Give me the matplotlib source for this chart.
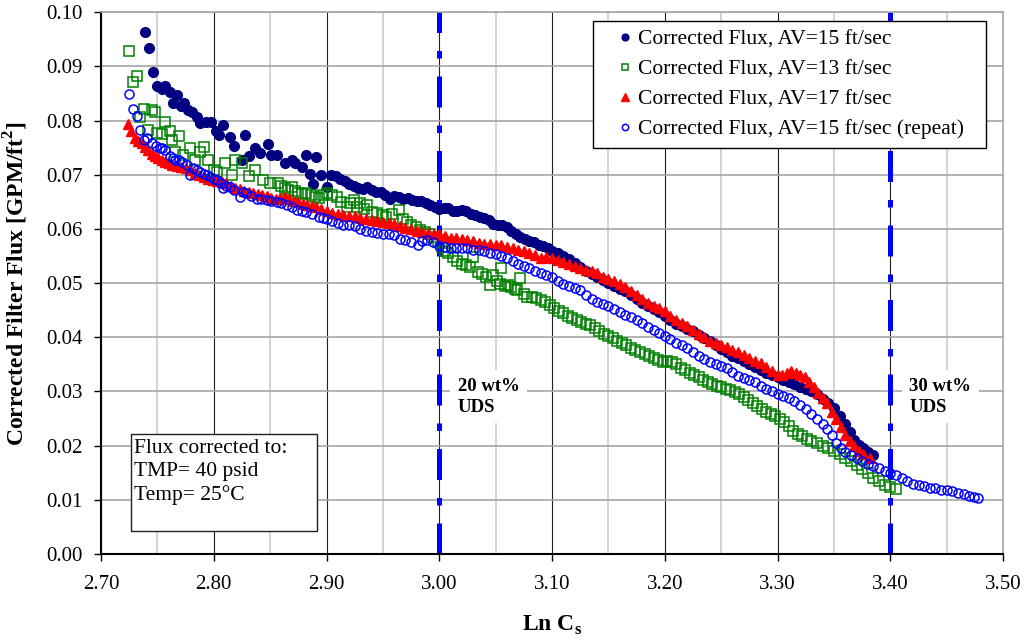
import numpy as np
import matplotlib
matplotlib.use("Agg")
import matplotlib.pyplot as plt
from matplotlib.ticker import MultipleLocator, FormatStrFormatter
from matplotlib.patches import Rectangle

plt.rcParams['font.family'] = ['Liberation Serif', 'DejaVu Serif']
plt.rcParams['mathtext.fontset'] = 'custom'
plt.rcParams['mathtext.rm'] = 'Liberation Serif'
plt.rcParams['mathtext.bf'] = 'Liberation Serif:bold'

# Corrected Flux, AV=15 ft/sec
x_av15 = [2.739, 2.743, 2.746, 2.750, 2.754, 2.757, 2.761, 2.764, 2.767, 2.771,
          2.774, 2.777, 2.781, 2.785, 2.788, 2.793, 2.798, 2.802, 2.805, 2.808,
          2.814, 2.818, 2.825, 2.828, 2.831, 2.837, 2.841, 2.848, 2.851, 2.856,
          2.863, 2.869, 2.872, 2.878, 2.882, 2.885, 2.888, 2.891, 2.895,
          2.900, 2.904, 2.908, 2.912, 2.916, 2.920, 2.924, 2.928, 2.932, 2.936,
          2.940, 2.944, 2.948, 2.952, 2.956, 2.960, 2.964, 2.968, 2.972, 2.976,
          2.980, 2.984, 2.988, 2.992, 2.996, 3.000, 3.004, 3.008, 3.012, 3.016,
          3.020, 3.024, 3.028, 3.032, 3.036, 3.040, 3.044, 3.048, 3.052, 3.056,
          3.060, 3.064, 3.068, 3.072, 3.076, 3.080, 3.084, 3.088, 3.092, 3.096,
          3.100, 3.105, 3.110, 3.115, 3.120, 3.125, 3.130, 3.135, 3.140, 3.145,
          3.150, 3.155, 3.160, 3.165, 3.170, 3.175, 3.180, 3.185, 3.190, 3.195,
          3.200, 3.205, 3.210, 3.215, 3.220, 3.225, 3.230, 3.235, 3.240, 3.245,
          3.250, 3.255, 3.260, 3.265, 3.270, 3.275, 3.280, 3.285, 3.290, 3.295,
          3.300, 3.305, 3.310, 3.315, 3.320, 3.325, 3.330, 3.335, 3.340, 3.345,
          3.350, 3.355, 3.360, 3.364, 3.368, 3.372, 3.376, 3.380, 3.385]
y_av15 = [0.0964, 0.0934, 0.0889, 0.0863, 0.0858, 0.0864, 0.0853, 0.0832, 0.0847, 0.0827,
          0.0833, 0.0819, 0.0816, 0.0807, 0.0796, 0.0798, 0.0798, 0.0780, 0.0774, 0.0791,
          0.0770, 0.0753, 0.0727, 0.0773, 0.0734, 0.0749, 0.0741, 0.0756, 0.0736, 0.0736,
          0.0721, 0.0728, 0.0721, 0.0715, 0.0736, 0.0701, 0.0683, 0.0733, 0.0699,
          0.0678, 0.0699, 0.0697, 0.0693, 0.0688, 0.0683, 0.0679, 0.0676, 0.0674, 0.0677,
          0.0672, 0.0669, 0.0668, 0.0662, 0.0655, 0.0660, 0.0659, 0.0656, 0.0657, 0.0654,
          0.0652, 0.0651, 0.0647, 0.0645, 0.0640, 0.0637, 0.0639, 0.0638, 0.0634, 0.0633,
          0.0635, 0.0633, 0.0628, 0.0625, 0.0622, 0.0620, 0.0616, 0.0610, 0.0608, 0.0607,
          0.0603, 0.0596, 0.0591, 0.0585, 0.0582, 0.0578, 0.0575, 0.0571, 0.0568, 0.0564,
          0.0560, 0.0555, 0.0550, 0.0544, 0.0537, 0.0530, 0.0523, 0.0517, 0.0511, 0.0506,
          0.0501, 0.0495, 0.0490, 0.0485, 0.0479, 0.0471, 0.0463, 0.0457, 0.0452, 0.0447,
          0.0440, 0.0432, 0.0425, 0.0420, 0.0416, 0.0411, 0.0405, 0.0399, 0.0393, 0.0386,
          0.0378, 0.0372, 0.0366, 0.0361, 0.0356, 0.0351, 0.0346, 0.0340, 0.0335, 0.0331,
          0.0327, 0.0321, 0.0317, 0.0313, 0.0309, 0.0305, 0.0301, 0.0295, 0.0287, 0.0279,
          0.0269, 0.0255, 0.0240, 0.0225, 0.0210, 0.0201, 0.0195, 0.0189, 0.0183]

# Corrected Flux, AV=13 ft/sec
x_av13 = [2.725, 2.728, 2.732, 2.735, 2.738, 2.742, 2.745, 2.748, 2.750, 2.754,
          2.757, 2.761, 2.763, 2.766, 2.769, 2.773, 2.779, 2.783, 2.788, 2.791,
          2.795, 2.800, 2.803, 2.810, 2.816, 2.819, 2.825, 2.831, 2.837, 2.844,
          2.850, 2.857, 2.860, 2.863, 2.866, 2.869, 2.872, 2.875, 2.878, 2.882,
          2.886, 2.890, 2.893, 2.897, 2.900, 2.905, 2.909, 2.913, 2.918, 2.921,
          2.924, 2.927, 2.930, 2.933, 2.936, 2.940, 2.945, 2.950, 2.953, 2.958,
          2.964, 2.968, 2.971, 2.975, 2.979, 2.983, 2.987, 2.991, 2.995, 2.999,
          3.002, 3.005, 3.008, 3.012, 3.016, 3.020, 3.024, 3.027, 3.030, 3.034,
          3.038, 3.041, 3.045, 3.048, 3.051, 3.054, 3.055, 3.058, 3.061, 3.064,
          3.067, 3.069, 3.072, 3.075, 3.078, 3.082, 3.086, 3.090, 3.094, 3.098,
          3.102, 3.106, 3.110, 3.114, 3.118, 3.122, 3.126, 3.130, 3.134, 3.138,
          3.142, 3.146, 3.150, 3.154, 3.158, 3.162, 3.166, 3.170, 3.174, 3.178,
          3.182, 3.186, 3.190, 3.194, 3.198, 3.202, 3.206, 3.210, 3.214, 3.218,
          3.222, 3.226, 3.230, 3.234, 3.238, 3.242, 3.246, 3.250, 3.254, 3.258,
          3.262, 3.266, 3.270, 3.274, 3.278, 3.282, 3.286, 3.290, 3.294, 3.298,
          3.302, 3.306, 3.310, 3.314, 3.318, 3.322, 3.326, 3.330, 3.335, 3.340,
          3.345, 3.350, 3.355, 3.360, 3.365, 3.370, 3.375, 3.380, 3.385, 3.390,
          3.395, 3.400, 3.405]
y_av13 = [0.0928, 0.0871, 0.0882, 0.0806, 0.0822, 0.0783, 0.0819, 0.0816, 0.0777, 0.0776,
          0.0798, 0.0780, 0.0765, 0.0742, 0.0771, 0.0736, 0.0749, 0.0727, 0.0742, 0.0752,
          0.0727, 0.0708, 0.0706, 0.0721, 0.0699, 0.0727, 0.0721, 0.0697, 0.0708, 0.0690,
          0.0684, 0.0684, 0.0680, 0.0675, 0.0672, 0.0678, 0.0670, 0.0666, 0.0664, 0.0666,
          0.0662, 0.0659, 0.0657, 0.0662, 0.0666, 0.0662, 0.0659, 0.0650, 0.0641, 0.0648,
          0.0653, 0.0640, 0.0647, 0.0637, 0.0644, 0.0632, 0.0629, 0.0625, 0.0622, 0.0628,
          0.0635, 0.0618, 0.0613, 0.0607, 0.0603, 0.0598, 0.0594, 0.0590, 0.0586, 0.0576,
          0.0566, 0.0560, 0.0556, 0.0548, 0.0540, 0.0536, 0.0533, 0.0530, 0.0549, 0.0520,
          0.0516, 0.0512, 0.0496, 0.0515, 0.0503, 0.0499, 0.0527, 0.0495, 0.0497, 0.0493,
          0.0490, 0.0487, 0.0509, 0.0480, 0.0475, 0.0474, 0.0472, 0.0469, 0.0466, 0.0460,
          0.0454, 0.0449, 0.0444, 0.0440, 0.0436, 0.0432, 0.0428, 0.0425, 0.0422, 0.0418,
          0.0412, 0.0407, 0.0403, 0.0398, 0.0394, 0.0390, 0.0386, 0.0381, 0.0377, 0.0373,
          0.0370, 0.0366, 0.0362, 0.0358, 0.0355, 0.0356, 0.0355, 0.0350, 0.0344, 0.0339,
          0.0335, 0.0331, 0.0326, 0.0322, 0.0318, 0.0314, 0.0311, 0.0308, 0.0305, 0.0302,
          0.0299, 0.0295, 0.0290, 0.0284, 0.0278, 0.0273, 0.0267, 0.0262, 0.0258, 0.0254,
          0.0249, 0.0244, 0.0236, 0.0228, 0.0222, 0.0218, 0.0213, 0.0209, 0.0205, 0.0200,
          0.0196, 0.0191, 0.0184, 0.0178, 0.0172, 0.0164, 0.0157, 0.0149, 0.0141, 0.0134,
          0.0128, 0.0124, 0.0120]

# Corrected Flux, AV=17 ft/sec
x_av17 = [2.724, 2.727, 2.730, 2.733, 2.736, 2.739, 2.742, 2.745, 2.748, 2.751,
          2.754, 2.757, 2.760, 2.763, 2.767, 2.771, 2.775, 2.779, 2.783, 2.787,
          2.791, 2.795, 2.799, 2.803, 2.807, 2.811, 2.815, 2.819, 2.823, 2.827,
          2.831, 2.835, 2.839, 2.843, 2.847, 2.851, 2.855, 2.859, 2.863, 2.867,
          2.871, 2.875, 2.879, 2.883, 2.887, 2.891, 2.895, 2.900, 2.905, 2.910,
          2.915, 2.920, 2.925, 2.930, 2.935, 2.940, 2.945, 2.950, 2.955, 2.960,
          2.965, 2.970, 2.975, 2.980, 2.985, 2.990, 2.995, 3.000, 3.005, 3.010,
          3.015, 3.020, 3.025, 3.030, 3.035, 3.040, 3.045, 3.050, 3.055, 3.060,
          3.065, 3.070, 3.075, 3.080, 3.085, 3.090, 3.095, 3.100, 3.105, 3.110,
          3.115, 3.120, 3.125, 3.130, 3.135, 3.140, 3.145, 3.150, 3.155, 3.160,
          3.165, 3.170, 3.175, 3.180, 3.185, 3.190, 3.195, 3.200, 3.205, 3.210,
          3.215, 3.220, 3.225, 3.230, 3.235, 3.240, 3.245, 3.250, 3.255, 3.260,
          3.265, 3.270, 3.275, 3.280, 3.285, 3.290, 3.295, 3.300, 3.304, 3.308,
          3.312, 3.316, 3.320, 3.324, 3.328, 3.332, 3.336, 3.340, 3.344, 3.348,
          3.352, 3.356, 3.360, 3.364, 3.368, 3.372, 3.376, 3.382]
y_av17 = [0.0793, 0.0780, 0.0768, 0.0762, 0.0758, 0.0752, 0.0746, 0.0738, 0.0734, 0.0731,
          0.0728, 0.0724, 0.0721, 0.0718, 0.0716, 0.0714, 0.0712, 0.0709, 0.0704, 0.0700,
          0.0696, 0.0693, 0.0691, 0.0689, 0.0686, 0.0684, 0.0680, 0.0676, 0.0673, 0.0670,
          0.0668, 0.0666, 0.0665, 0.0663, 0.0661, 0.0658, 0.0656, 0.0657, 0.0659, 0.0655,
          0.0651, 0.0649, 0.0646, 0.0644, 0.0642, 0.0640, 0.0637, 0.0633, 0.0630, 0.0628,
          0.0626, 0.0624, 0.0623, 0.0621, 0.0619, 0.0617, 0.0615, 0.0613, 0.0611, 0.0609,
          0.0606, 0.0602, 0.0599, 0.0596, 0.0594, 0.0592, 0.0591, 0.0590, 0.0587, 0.0584,
          0.0583, 0.0581, 0.0579, 0.0577, 0.0574, 0.0573, 0.0572, 0.0571, 0.0570, 0.0567,
          0.0565, 0.0562, 0.0559, 0.0556, 0.0551, 0.0547, 0.0549, 0.0547, 0.0543, 0.0539,
          0.0535, 0.0531, 0.0527, 0.0525, 0.0522, 0.0518, 0.0512, 0.0507, 0.0503, 0.0499,
          0.0493, 0.0486, 0.0479, 0.0471, 0.0463, 0.0458, 0.0454, 0.0448, 0.0440, 0.0432,
          0.0426, 0.0420, 0.0414, 0.0406, 0.0400, 0.0393, 0.0389, 0.0386, 0.0383, 0.0377,
          0.0372, 0.0368, 0.0362, 0.0357, 0.0352, 0.0346, 0.0338, 0.0331, 0.0330, 0.0334,
          0.0337, 0.0335, 0.0331, 0.0326, 0.0317, 0.0308, 0.0298, 0.0288, 0.0278, 0.0263,
          0.0249, 0.0234, 0.0220, 0.0208, 0.0199, 0.0191, 0.0185, 0.0177]

# Corrected Flux, AV=15 ft/sec (repeat)
x_rep = [2.725, 2.728, 2.732, 2.735, 2.738, 2.741, 2.745, 2.749, 2.752, 2.754,
         2.757, 2.761, 2.764, 2.766, 2.769, 2.772, 2.776, 2.779, 2.782, 2.785,
         2.788, 2.791, 2.794, 2.797, 2.800, 2.803, 2.806, 2.808, 2.811, 2.814,
         2.818, 2.823, 2.826, 2.829, 2.833, 2.838, 2.842, 2.847, 2.851, 2.856,
         2.860, 2.865, 2.869, 2.874, 2.878, 2.882, 2.887, 2.893, 2.897,
         2.900, 2.905, 2.910, 2.915, 2.920, 2.925, 2.930, 2.935, 2.940, 2.945,
         2.950, 2.955, 2.960, 2.965, 2.970, 2.975, 2.981, 2.985, 2.989, 2.994,
         3.000, 3.005, 3.010, 3.015, 3.020, 3.025, 3.030, 3.035, 3.040, 3.045,
         3.050, 3.055, 3.060, 3.065, 3.070, 3.075, 3.080, 3.085, 3.090, 3.095,
         3.100, 3.105, 3.110, 3.115, 3.120, 3.125, 3.130, 3.135, 3.140, 3.145,
         3.150, 3.155, 3.160, 3.165, 3.170, 3.175, 3.180, 3.185, 3.190, 3.195,
         3.200, 3.205, 3.210, 3.215, 3.220, 3.225, 3.230, 3.235, 3.240, 3.245,
         3.250, 3.255, 3.260, 3.265, 3.270, 3.275, 3.280, 3.285, 3.290, 3.295,
         3.300, 3.305, 3.310, 3.315, 3.320, 3.325, 3.330, 3.335, 3.340, 3.344,
         3.348, 3.352, 3.356, 3.360, 3.365, 3.370, 3.375, 3.380, 3.385, 3.390,
         3.395, 3.400, 3.405, 3.410, 3.415, 3.420, 3.425, 3.430, 3.435, 3.440,
         3.445, 3.450, 3.455, 3.460, 3.465, 3.470, 3.474, 3.478]
y_rep = [0.0849, 0.0822, 0.0808, 0.0783, 0.0764, 0.0767, 0.0758, 0.0753, 0.0750, 0.0749,
         0.0745, 0.0734, 0.0731, 0.0728, 0.0727, 0.0724, 0.0718, 0.0699, 0.0712, 0.0708,
         0.0705, 0.0701, 0.0699, 0.0696, 0.0693, 0.0690, 0.0684, 0.0675, 0.0680, 0.0678,
         0.0672, 0.0659, 0.0668, 0.0666, 0.0661, 0.0656, 0.0655, 0.0653, 0.0652, 0.0650,
         0.0647, 0.0644, 0.0640, 0.0635, 0.0634, 0.0632, 0.0628, 0.0622, 0.0620,
         0.0619, 0.0615, 0.0611, 0.0608, 0.0607, 0.0605, 0.0600, 0.0596, 0.0594, 0.0592,
         0.0591, 0.0590, 0.0588, 0.0582, 0.0580, 0.0576, 0.0570, 0.0578, 0.0580, 0.0575,
         0.0569, 0.0567, 0.0565, 0.0564, 0.0565, 0.0564, 0.0562, 0.0561, 0.0559, 0.0556,
         0.0554, 0.0550, 0.0546, 0.0541, 0.0536, 0.0531, 0.0527, 0.0523, 0.0519, 0.0515,
         0.0511, 0.0504, 0.0499, 0.0495, 0.0491, 0.0487, 0.0478, 0.0471, 0.0466, 0.0462,
         0.0458, 0.0453, 0.0447, 0.0442, 0.0437, 0.0432, 0.0426, 0.0419, 0.0413, 0.0408,
         0.0403, 0.0397, 0.0390, 0.0385, 0.0380, 0.0373, 0.0366, 0.0360, 0.0355, 0.0351,
         0.0347, 0.0343, 0.0336, 0.0329, 0.0325, 0.0321, 0.0317, 0.0311, 0.0305, 0.0300,
         0.0296, 0.0292, 0.0288, 0.0282, 0.0275, 0.0268, 0.0259, 0.0250, 0.0240, 0.0230,
         0.0220, 0.0205, 0.0195, 0.0189, 0.0183, 0.0177, 0.0172, 0.0167, 0.0163, 0.0159,
         0.0154, 0.0149, 0.0145, 0.0140, 0.0135, 0.0130, 0.0127, 0.0125, 0.0122, 0.0121,
         0.0119, 0.0118, 0.0116, 0.0113, 0.0110, 0.0107, 0.0106, 0.0103]

uds_lines = [3.00, 3.40]
uds_labels = ["20 wt%\nUDS", "30 wt%\nUDS"]

fig = plt.figure(figsize=(10.24, 6.42), dpi=100)
ax = fig.add_axes([0.0986, 0.137, 0.881, 0.844])

# rejilla al estilo Excel
ax.set_xlim(2.70, 3.50)
ax.set_ylim(0.0, 0.10)
ax.xaxis.set_major_locator(MultipleLocator(0.1))
ax.xaxis.set_minor_locator(MultipleLocator(0.05))
ax.yaxis.set_major_locator(MultipleLocator(0.01))
ax.xaxis.set_major_formatter(FormatStrFormatter('%.2f'))
ax.yaxis.set_major_formatter(FormatStrFormatter('%.2f'))
ax.grid(which='major', axis='x', color='#202020', linewidth=0.8)
ax.grid(which='minor', axis='x', color='#cccccc', linewidth=1.2)
ax.grid(which='major', axis='y', color='#a6a6a6', linewidth=1.2)
ax.set_axisbelow(True)
ax.tick_params(axis='x', which='minor', length=0)
ax.tick_params(axis='both', which='major', direction='out', length=5,
               width=1, labelsize=15)
ax.tick_params(axis='x', which='major', pad=10)
ax.tick_params(axis='y', which='major', pad=8)

for s in ['left', 'bottom']:
    ax.spines[s].set_color('black')
    ax.spines[s].set_linewidth(1.5)
for s in ['top', 'right']:
    ax.spines[s].set_color('#a6a6a6')
    ax.spines[s].set_linewidth(1.2)

# líneas de concentración UDS
for xv, lab in zip(uds_lines, uds_labels):
    ax.axvline(xv, color='#0000ff', linewidth=3.6, zorder=1.5,
               linestyle=(0, (6.2, 3.6, 1.5, 3.6)))
    ax.text(xv + 0.0166, 0.0290, lab, fontsize=13.5, fontweight='bold',
            va='center', ha='left', linespacing=1.3, zorder=2,
            bbox=dict(boxstyle='square,pad=0.4', facecolor='white',
                      edgecolor='none'))

# series
ax.plot(x_av15, y_av15, linestyle='none', marker='o', markersize=7,
        color='#000080', label='Corrected Flux, AV=15 ft/sec', zorder=3)
ax.plot(x_av13, y_av13, linestyle='none', marker='s', markersize=6.5,
        markerfacecolor='none', markeredgecolor='#008000', markeredgewidth=1.1,
        label='Corrected Flux, AV=13 ft/sec', zorder=3)
ax.plot(x_av17, y_av17, linestyle='none', marker='^', markersize=7.5,
        color='#ff0000', label='Corrected Flux, AV=17 ft/sec', zorder=3)
ax.plot(x_rep, y_rep, linestyle='none', marker='o', markersize=6.5,
        markerfacecolor='none', markeredgecolor='#0000ff', markeredgewidth=1.1,
        label='Corrected Flux, AV=15 ft/sec (repeat)', zorder=3)

leg = ax.legend(loc='upper left', bbox_to_anchor=(0.5455, 0.9834, 0.4357, 0.0),
                mode='expand', borderaxespad=0, fontsize=15.5, markerscale=0.7,
                numpoints=1, handlelength=2.2, handletextpad=-0.5,
                labelspacing=0.45, borderpad=0.4, fancybox=False,
                framealpha=1, edgecolor='black')
leg.get_frame().set_linewidth(1.0)
leg.set_zorder(5)

# caja de condiciones
ax.add_patch(Rectangle((0.0333, 0.0424), 0.2062, 0.179, transform=ax.transAxes,
                       facecolor='white', edgecolor='#202020', linewidth=1.0,
                       zorder=4))
ax.text(0.0366, 0.2120, "Flux corrected to:\nTMP= 40 psid\nTemp= 25°C",
        transform=ax.transAxes, fontsize=15.5, va='top', ha='left',
        linespacing=1.28, zorder=5)

ax.set_xlabel(r'Ln C$_\mathbf{s}$', fontsize=17, fontweight='bold', labelpad=14)
ax.set_ylabel(r'Corrected Filter Flux [GPM/ft$^\mathbf{2}$]', fontsize=17,
              fontweight='bold', labelpad=12)

fig.savefig('out.png', dpi=100)
